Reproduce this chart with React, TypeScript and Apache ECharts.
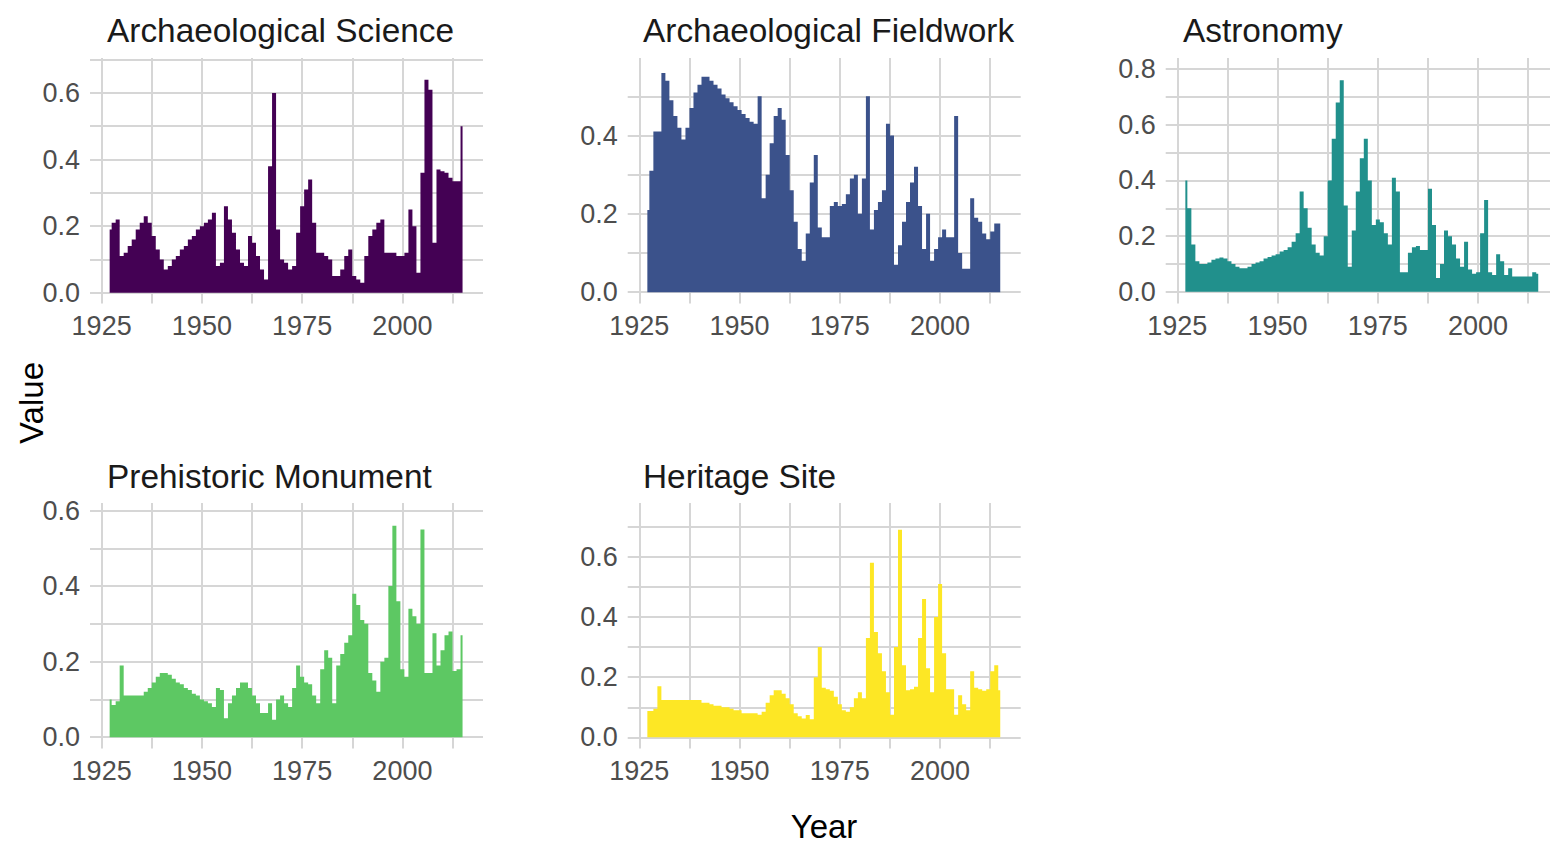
import React, { useEffect, useRef } from "react";
import * as echarts from "echarts";

// ---------- data ----------
const years: number[] = Array.from({ length: 89 }, (_, i) => 1927 + i); // 1927..2015

const panelTitles = [
  "Archaeological Science",
  "Archaeological Fieldwork",
  "Astronomy",
  "Prehistoric Monument",
  "Heritage Site",
];

// 1927 .. 2015
const archaeologicalScience = [
  0.19, 0.21, 0.22,
  0.11, 0.12, 0.14, 0.16, 0.19, 0.21, 0.23, 0.21, 0.17, 0.13,
  0.10, 0.07, 0.08, 0.10, 0.11, 0.13, 0.14, 0.16, 0.17, 0.19,
  0.20, 0.21, 0.22, 0.24, 0.08, 0.09, 0.26, 0.22, 0.18, 0.13,
  0.09, 0.08, 0.17, 0.15, 0.11, 0.07, 0.04, 0.38, 0.60, 0.19,
  0.10, 0.09, 0.07, 0.08, 0.18, 0.26, 0.31, 0.34, 0.21, 0.12,
  0.12, 0.11, 0.10, 0.05, 0.05, 0.07, 0.11, 0.13, 0.05, 0.04,
  0.03, 0.11, 0.17, 0.19, 0.21, 0.22, 0.12, 0.12, 0.12, 0.11,
  0.11, 0.12, 0.25, 0.20, 0.06, 0.36, 0.64, 0.61, 0.15, 0.37,
  0.365, 0.36, 0.345, 0.335, 0.335, 0.50,
];

const archaeologicalFieldwork = [
  0.21, 0.31, 0.41,
  0.41, 0.56, 0.54, 0.49, 0.45, 0.42, 0.39, 0.42, 0.47, 0.51,
  0.53, 0.55, 0.55, 0.54, 0.53, 0.52, 0.505, 0.495, 0.485, 0.475,
  0.465, 0.455, 0.445, 0.435, 0.43, 0.50, 0.24, 0.30, 0.38, 0.45,
  0.47, 0.44, 0.35, 0.26, 0.18, 0.11, 0.08, 0.15, 0.28, 0.35,
  0.165, 0.14, 0.14, 0.22, 0.23, 0.22, 0.225, 0.25, 0.29, 0.30,
  0.20, 0.29, 0.50, 0.16, 0.21, 0.23, 0.26, 0.43, 0.40, 0.07,
  0.12, 0.18, 0.23, 0.28, 0.32, 0.22, 0.11, 0.20, 0.08, 0.11,
  0.14, 0.16, 0.14, 0.14, 0.45, 0.10, 0.06, 0.06, 0.24, 0.19,
  0.18, 0.15, 0.135, 0.155, 0.175, 0.175,
];

const astronomy = [
  0.40, 0.30, 0.17,
  0.11, 0.10, 0.10, 0.105, 0.115, 0.12, 0.123, 0.12, 0.11, 0.10,
  0.09, 0.085, 0.085, 0.09, 0.10, 0.105, 0.11, 0.12, 0.125, 0.13,
  0.135, 0.145, 0.15, 0.16, 0.18, 0.21, 0.36, 0.30, 0.23, 0.17,
  0.14, 0.13, 0.20, 0.40, 0.55, 0.68, 0.76, 0.31, 0.09, 0.22,
  0.36, 0.48, 0.55, 0.40, 0.24, 0.26, 0.25, 0.21, 0.17, 0.41,
  0.36, 0.07, 0.07, 0.14, 0.16, 0.165, 0.15, 0.15, 0.37, 0.24,
  0.05, 0.10, 0.22, 0.20, 0.17, 0.12, 0.09, 0.18, 0.08, 0.065,
  0.07, 0.21, 0.33, 0.07, 0.06, 0.135, 0.11, 0.06, 0.085, 0.055,
  0.055, 0.055, 0.055, 0.055, 0.07, 0.065,
];

const prehistoricMonument = [
  0.10, 0.085, 0.095,
  0.19, 0.11, 0.11, 0.11, 0.11, 0.11, 0.12, 0.13, 0.145, 0.16,
  0.17, 0.17, 0.165, 0.155, 0.145, 0.14, 0.13, 0.125, 0.115, 0.11,
  0.10, 0.095, 0.09, 0.08, 0.13, 0.125, 0.05, 0.09, 0.11, 0.13,
  0.145, 0.145, 0.13, 0.11, 0.09, 0.064, 0.064, 0.09, 0.046, 0.10,
  0.11, 0.09, 0.08, 0.13, 0.19, 0.16, 0.145, 0.14, 0.11, 0.09,
  0.18, 0.23, 0.21, 0.09, 0.19, 0.22, 0.25, 0.27, 0.38, 0.35,
  0.31, 0.30, 0.17, 0.15, 0.12, 0.20, 0.21, 0.40, 0.56, 0.36,
  0.18, 0.16, 0.34, 0.32, 0.30, 0.55, 0.17, 0.17, 0.275, 0.19,
  0.23, 0.27, 0.28, 0.175, 0.18, 0.27,
];

const heritageSite = [
  0.088, 0.088, 0.095,
  0.17, 0.124, 0.124, 0.124, 0.124, 0.124, 0.124, 0.124, 0.124, 0.124,
  0.124, 0.115, 0.115, 0.11, 0.105, 0.105, 0.10, 0.10, 0.095, 0.09,
  0.09, 0.08, 0.08, 0.08, 0.08, 0.075, 0.085, 0.115, 0.14, 0.157,
  0.157, 0.145, 0.13, 0.11, 0.08, 0.07, 0.063, 0.074, 0.06, 0.20,
  0.30, 0.165, 0.16, 0.155, 0.135, 0.11, 0.09, 0.085, 0.10, 0.13,
  0.15, 0.13, 0.33, 0.58, 0.35, 0.28, 0.22, 0.15, 0.075, 0.30,
  0.69, 0.24, 0.157, 0.16, 0.168, 0.33, 0.46, 0.23, 0.15, 0.40,
  0.51, 0.28, 0.16, 0.16, 0.075, 0.14, 0.11, 0.09, 0.22, 0.165,
  0.16, 0.155, 0.16, 0.22, 0.24, 0.157,
];

const seriesValues = [
  archaeologicalScience,
  archaeologicalFieldwork,
  astronomy,
  prehistoricMonument,
  heritageSite,
];

const colors = ["#440154", "#3B528B", "#21908C", "#5DC863", "#FDE725"];

const xGridValues = [1925, 1937.5, 1950, 1962.5, 1975, 1987.5, 2000, 2012.5];
const xLabelValues = [1925, 1950, 1975, 2000];

const yGridValues = [
  [0, 0.1, 0.2, 0.3, 0.4, 0.5, 0.6, 0.7],
  [0, 0.1, 0.2, 0.3, 0.4, 0.5],
  [0, 0.1, 0.2, 0.3, 0.4, 0.5, 0.6, 0.7, 0.8],
  [0, 0.1, 0.2, 0.3, 0.4, 0.5, 0.6],
  [0, 0.1, 0.2, 0.3, 0.4, 0.5, 0.6, 0.7],
];
const yLabelValues = [
  [0, 0.2, 0.4, 0.6],
  [0, 0.2, 0.4],
  [0, 0.2, 0.4, 0.6, 0.8],
  [0, 0.2, 0.4, 0.6],
  [0, 0.2, 0.4, 0.6],
];

// ---------- layout ----------
const FONT = '"Liberation Sans", Arial, Helvetica, sans-serif';
const X_MIN = 1922.1;
const X_MAX = 2020.1;
const panelLayout = [
  { left: 90, top: 58, yMin: -0.0324, yMax: 0.705 },
  { left: 627.7, top: 58, yMin: -0.029, yMax: 0.598 },
  { left: 1165.7, top: 58, yMin: -0.042, yMax: 0.84 },
  { left: 90, top: 503, yMin: -0.03, yMax: 0.62 },
  { left: 627.7, top: 503, yMin: -0.037, yMax: 0.779 },
];
const PANEL_W = 393;
const PANEL_H = 245.5;

export default function App() {
  const ref = useRef<HTMLDivElement>(null);

  useEffect(() => {
    document.body.style.margin = "0";
    if (!ref.current) return;
    const chart = echarts.init(ref.current, undefined, { renderer: "svg" });

    const gridColor = "#D6D6D6";
    const grids = panelLayout.map((p) => ({
      left: p.left,
      top: p.top,
      width: PANEL_W,
      height: PANEL_H,
      containLabel: false,
      outerBoundsMode: "none",
    }));

    const xAxes = panelLayout.map((_, i) => ({
      type: "value",
      gridIndex: i,
      min: X_MIN,
      max: X_MAX,
      axisLine: { show: false, onZero: false },
      axisTick: { show: false, customValues: xGridValues },
      axisLabel: {
        customValues: xLabelValues,
        formatter: (v: number) => String(v),
        color: "#4D4D4D",
        fontSize: 27,
        fontFamily: FONT,
        margin: 9,
      },
      splitLine: { show: true, lineStyle: { color: gridColor, width: 2 } },
    }));

    const yAxes = panelLayout.map((p, i) => ({
      type: "value",
      gridIndex: i,
      min: p.yMin,
      max: p.yMax,
      axisLine: { show: false, onZero: false },
      axisTick: { show: false, customValues: yGridValues[i] },
      axisLabel: {
        customValues: yLabelValues[i],
        formatter: (v: number) => v.toFixed(1),
        color: "#4D4D4D",
        fontSize: 27,
        fontFamily: FONT,
        margin: 10,
      },
      splitLine: { show: true, lineStyle: { color: gridColor, width: 2 } },
    }));

    const series = seriesValues.map((vals, i) => ({
      type: "line",
      name: panelTitles[i],
      xAxisIndex: i,
      yAxisIndex: i,
      data: years.map((yr, j) => [yr, vals[j]]),
      step: "middle",
      showSymbol: false,
      symbol: "none",
      silent: true,
      lineStyle: { width: 0, color: colors[i] },
      itemStyle: { color: colors[i] },
      areaStyle: { color: colors[i], opacity: 1 },
    }));

    const titlePos = [
      { x: 107, y: 30.5 },
      { x: 643, y: 30.5 },
      { x: 1183, y: 30.5 },
      { x: 107, y: 476.5 },
      { x: 643, y: 476.5 },
    ];

    const graphic: any[] = panelTitles.map((t, i) => ({
      type: "text",
      x: titlePos[i].x,
      y: titlePos[i].y,
      silent: true,
      style: {
        text: t,
        fontSize: 33.4,
        fontFamily: FONT,
        fill: "#1A1A1A",
        align: "left",
        verticalAlign: "middle",
      },
    }));
    graphic.push({
      type: "text",
      x: 31,
      y: 403,
      rotation: Math.PI / 2,
      silent: true,
      style: {
        text: "Value",
        fontSize: 33,
        fontFamily: FONT,
        fill: "#000000",
        align: "center",
        verticalAlign: "middle",
      },
    });
    graphic.push({
      type: "text",
      x: 824,
      y: 826,
      silent: true,
      style: {
        text: "Year",
        fontSize: 33,
        fontFamily: FONT,
        fill: "#000000",
        align: "center",
        verticalAlign: "middle",
      },
    });

    chart.setOption({
      animation: false,
      backgroundColor: "#FFFFFF",
      grid: grids,
      xAxis: xAxes,
      yAxis: yAxes,
      series,
      graphic,
    } as any);

    return () => {
      chart.dispose();
    };
  }, []);

  return <div ref={ref} style={{ width: 1550, height: 844 }} />;
}
